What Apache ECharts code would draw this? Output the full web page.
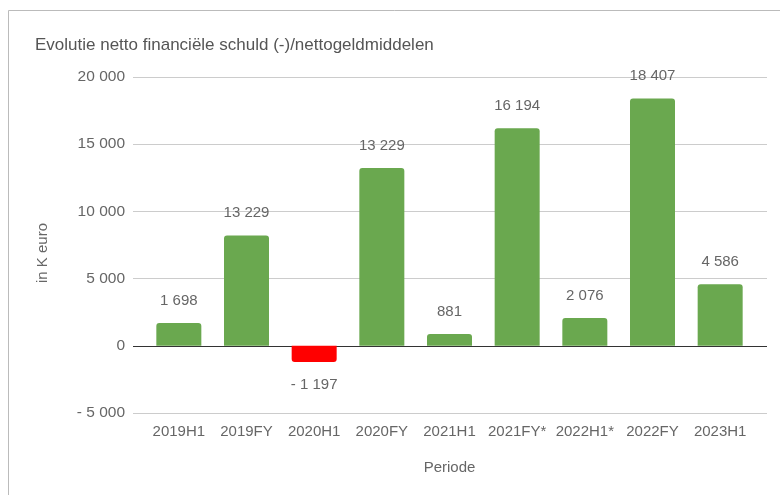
<!DOCTYPE html>
<html>
<head>
<meta charset="utf-8">
<script src="https://cdn.jsdelivr.net/npm/echarts@6/dist/echarts.min.js"></script>
<style>
html,body{margin:0;padding:0;background:#fff;}
#c{width:780px;height:495px;}
</style>
</head>
<body>
<div id="c"></div>
<script>
const categories = ['2019H1','2019FY','2020H1','2020FY','2021H1','2021FY*','2022H1*','2022FY','2023H1'];
const values = [1698, 8200, -1197, 13229, 881, 16194, 2076, 18407, 4586];
const labelTexts = ['1 698','13 229','- 1 197','13 229','881','16 194','2 076','18 407','4 586'];
const yTicks = {min: -5000, max: 20000, interval: 5000};

function fmt(v){
  const neg = v < 0;
  const s = String(Math.abs(v)).replace(/\B(?=(\d{3})+(?!\d))/g, ' ');
  return neg ? '- ' + s : s;
}

const FONT = 'Arial, "Liberation Sans", sans-serif';
const chart = echarts.init(document.getElementById('c'));
chart.setOption({
  animation: false,
  textStyle: {fontFamily: FONT},
  title: {
    text: 'Evolutie netto financiële schuld (-)/nettogeldmiddelen',
    left: 35, top: 37, padding: 0,
    textStyle: {fontSize: 17, fontWeight: 'normal', color: '#555', fontFamily: FONT}
  },
  graphic: [{
    type: 'rect', shape: {x: 8.5, y: 10.5, width: 800, height: 600},
    style: {fill: 'none', stroke: '#bbb', lineWidth: 1}, silent: true
  }],
  grid: [
    {left: 133, right: 13, top: 77, bottom: 82},
    {left: 145, right: 26, top: 77, bottom: 82}
  ],
  xAxis: [{
    type: 'category', gridIndex: 0, data: categories, show: false
  }, {
    type: 'category', gridIndex: 1, data: categories,
    name: 'Periode', nameLocation: 'middle', nameGap: 47,
    nameTextStyle: {fontSize: 15, color: '#666', fontFamily: FONT},
    axisLine: {show: false, onZero: false},
    axisTick: {show: false},
    axisLabel: {fontSize: 15, color: '#666', margin: 11, interval: 0, fontFamily: FONT}
  }],
  yAxis: [{
    type: 'value', gridIndex: 0, min: yTicks.min, max: yTicks.max, interval: yTicks.interval,
    name: 'in K euro', nameLocation: 'middle', nameGap: 83,
    nameTextStyle: {fontSize: 15, color: '#666', fontFamily: FONT, padding: [0, 16, 0, 0]},
    axisLine: {show: false}, axisTick: {show: false},
    axisLabel: {fontSize: 15.5, color: '#666', margin: 8, formatter: fmt, fontFamily: FONT},
    splitLine: {lineStyle: {color: ['#cccccc','#333333','#cccccc','#cccccc','#cccccc','#cccccc'], width: 1}}
  }, {
    type: 'value', gridIndex: 1, min: yTicks.min, max: yTicks.max, interval: yTicks.interval,
    show: false, splitLine: {show: false}
  }],
  series: [{
    type: 'bar',
    xAxisIndex: 1, yAxisIndex: 1,
    barWidth: 45,
    data: values.map(v => ({
      value: v,
      itemStyle: {color: v < 0 ? '#ff0000' : '#6aa84f', borderRadius: v < 0 ? [0,0,3,3] : [3,3,0,0]},
      label: {position: v < 0 ? 'bottom' : 'top'}
    })),
    label: {
      show: true, distance: 15, fontSize: 15, color: '#666', fontFamily: FONT,
      formatter: p => labelTexts[p.dataIndex]
    }
  }]
});
</script>
</body>
</html>
